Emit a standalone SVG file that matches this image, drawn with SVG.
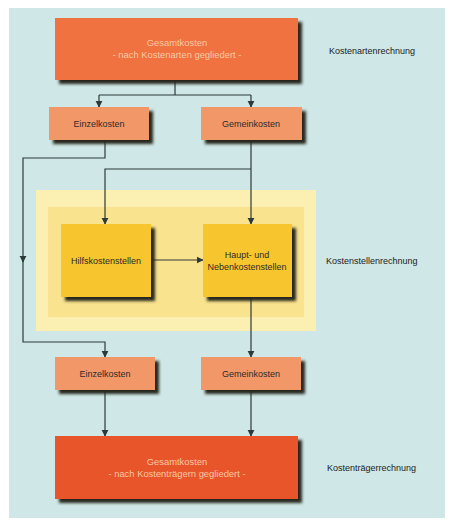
<svg xmlns="http://www.w3.org/2000/svg" width="466" height="526" viewBox="0 0 466 526">
<defs>
<style>
.lbl{font-family:"Liberation Sans",Arial,sans-serif;font-size:9px;fill:#2e2a28;text-anchor:middle}
.big{font-family:"Liberation Sans",Arial,sans-serif;font-size:9.4px;fill:#f8c9a4;text-anchor:middle}
.side{font-family:"Liberation Sans",Arial,sans-serif;font-size:9px;fill:#222;text-anchor:start}
.conn{fill:none;stroke:#2d3a3a;stroke-width:1.2}
</style>
<filter id="sh" x="-10%" y="-10%" width="130%" height="150%">
<feDropShadow dx="4" dy="4" stdDeviation="1.6" flood-color="#26261e" flood-opacity="1"/>
</filter>
<marker id="ar" viewBox="0 0 10 10" refX="9" refY="5" markerWidth="7" markerHeight="8" orient="auto" markerUnits="userSpaceOnUse">
<path d="M0,0 L10,5 L0,10 z" fill="#2d3a3a"/>
</marker>
</defs>
<rect x="0" y="0" width="466" height="526" fill="#ffffff"/>
<rect x="9" y="8" width="436" height="510" fill="#cfe7e7"/>
<g id="zone">
<rect x="36" y="190" width="280" height="141" fill="#fbf0b2"/>
<rect x="48" y="207" width="256" height="110" fill="#fae38e"/>
</g>
<g id="connectors">
<path class="conn" d="M175,80 V95 M99,95 H251"/>
<path class="conn" d="M99,95 V107" marker-end="url(#ar)"/>
<path class="conn" d="M251,95 V107" marker-end="url(#ar)"/>
<path class="conn" d="M105,140 V158 H23 V262" marker-end="url(#ar)"/>
<path class="conn" d="M23,258 V342 H105 V357" marker-end="url(#ar)"/>
<path class="conn" d="M251,140 V224" marker-end="url(#ar)"/>
<path class="conn" d="M251,169 H105 V224" marker-end="url(#ar)"/>
<path class="conn" d="M151,260 H203" marker-end="url(#ar)"/>
<path class="conn" d="M251,297 V357" marker-end="url(#ar)"/>
<path class="conn" d="M105,390 V436" marker-end="url(#ar)"/>
<path class="conn" d="M251,390 V436" marker-end="url(#ar)"/>
</g>
<g id="gesamt-top">
<rect x="55" y="18" width="243" height="62" fill="#ef7241" filter="url(#sh)"/>
<text class="big" x="177" y="46">Gesamtkosten</text>
<text class="big" x="177" y="58">- nach Kostenarten gegliedert -</text>
</g>
<g id="einzel-top">
<rect x="49" y="107" width="100" height="33" fill="#f29868" filter="url(#sh)"/>
<text class="lbl" x="99" y="127">Einzelkosten</text>
</g>
<g id="gemein-top">
<rect x="201" y="107" width="101" height="33" fill="#f29868" filter="url(#sh)"/>
<text class="lbl" x="251" y="127">Gemeinkosten</text>
</g>
<g id="hilfs">
<rect x="61" y="224" width="90" height="73" fill="#f7c62e" filter="url(#sh)"/>
<text class="lbl" x="106" y="264">Hilfskostenstellen</text>
</g>
<g id="haupt">
<rect x="203" y="224" width="89" height="73" fill="#f7c62e" filter="url(#sh)"/>
<text class="lbl" x="247" y="258">Haupt- und</text>
<text class="lbl" x="247" y="270">Nebenkostenstellen</text>
</g>
<g id="einzel-bottom">
<rect x="55" y="357" width="100" height="33" fill="#f29868" filter="url(#sh)"/>
<text class="lbl" x="105" y="377">Einzelkosten</text>
</g>
<g id="gemein-bottom">
<rect x="201" y="357" width="100" height="33" fill="#f29868" filter="url(#sh)"/>
<text class="lbl" x="251" y="377">Gemeinkosten</text>
</g>
<g id="gesamt-bottom">
<rect x="55" y="436" width="243" height="63" fill="#e9542b" filter="url(#sh)"/>
<text class="big" x="177" y="465">Gesamtkosten</text>
<text class="big" x="177" y="477">- nach Kostenträgern gegliedert -</text>
</g>
<g id="side-labels">
<text class="side" x="329" y="54">Kostenartenrechnung</text>
<text class="side" x="326" y="264">Kostenstellenrechnung</text>
<text class="side" x="327" y="471">Kostenträgerrechnung</text>
</g>
</svg>
